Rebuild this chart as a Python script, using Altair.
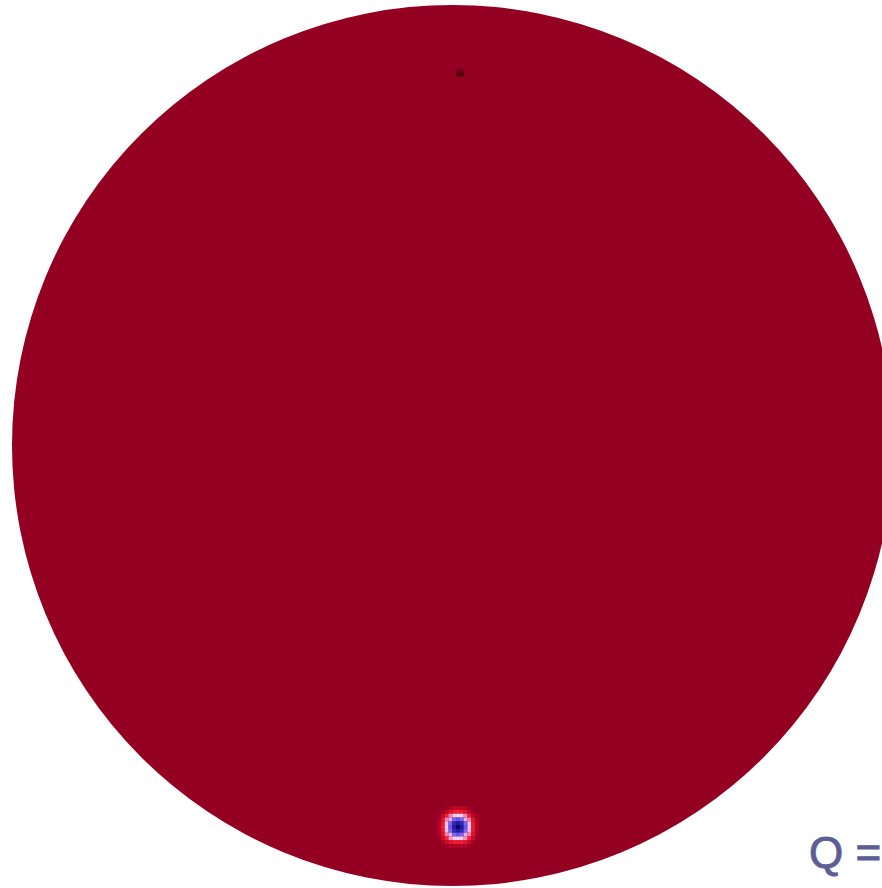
import altair as alt
import pandas as pd

# ---- data -------------------------------------------------------------
# field values on the pixel grid around the bright spot (rows top -> bottom)
spot_rows = list(range(-5, 6))
spot_cols = list(range(-5, 6))
spot_values = [
    [1.00, 1.00, 0.95, 0.85, 0.80, 0.80, 0.80, 0.85, 0.95, 1.00, 1.00],
    [1.00, 0.95, 0.80, 0.65, 0.55, 0.50, 0.55, 0.65, 0.80, 0.95, 1.00],
    [0.95, 0.80, 0.55, 0.30, 0.10, 0.05, 0.10, 0.30, 0.55, 0.80, 0.95],
    [0.90, 0.65, 0.30, -0.15, -0.40, -0.45, -0.40, -0.15, 0.30, 0.65, 0.90],
    [0.85, 0.60, 0.15, -0.40, -0.70, -0.80, -0.70, -0.40, 0.15, 0.60, 0.85],
    [0.85, 0.55, 0.10, -0.45, -0.80, -1.00, -0.80, -0.45, 0.10, 0.55, 0.85],
    [0.85, 0.60, 0.15, -0.40, -0.70, -0.80, -0.70, -0.40, 0.15, 0.60, 0.85],
    [0.90, 0.65, 0.30, -0.15, -0.40, -0.45, -0.40, -0.15, 0.30, 0.65, 0.90],
    [0.95, 0.75, 0.50, 0.25, 0.10, 0.05, 0.10, 0.25, 0.50, 0.75, 0.95],
    [1.00, 0.90, 0.75, 0.62, 0.55, 0.55, 0.55, 0.62, 0.75, 0.90, 1.00],
    [1.00, 1.00, 0.95, 0.88, 0.85, 0.85, 0.85, 0.88, 0.95, 1.00, 1.00],
]
# small dark patch near the top of the sphere
pole_rows = [-199, -199, -198, -198]
pole_cols = [0, 1, 0, 1]
pole_values = [1.20, 1.20, 1.40, 1.40]

color_domain = [-1.0, -0.5, 0.0, 0.5, 1.0, 1.4]
color_range = ["#00006e", "#2f4dff", "#f4f0f6", "#ff2030", "#940022", "#4a0010"]

label_text = "Q ="

# ---- layout constants ---------------------------------------------------
W, H = 882, 888
CELL = 3.8            # pixel size of one grid cell
SPOT_X, SPOT_Y = 458, 827   # pixel position of grid cell (0, 0)
DISC_X, DISC_Y, DISC_R = 452.5, 445.5, 440.5

recs = []
for r, row in zip(spot_rows, spot_values):
    for c, v in zip(spot_cols, row):
        recs.append({"row": r, "col": c, "value": v})
for r, c, v in zip(pole_rows, pole_cols, pole_values):
    recs.append({"row": r, "col": c, "value": v})
cells = pd.DataFrame(recs)

x_scale = alt.Scale(domain=[(0 - SPOT_X) / CELL, (W - SPOT_X) / CELL], nice=False, zero=False)
y_scale = alt.Scale(domain=[(0 - SPOT_Y) / CELL, (H - SPOT_Y) / CELL], nice=False, zero=False, reverse=True)

disc = alt.Chart(pd.DataFrame({"k": [0]})).mark_circle(
    color="#940022", opacity=1, size=(2 * DISC_R) ** 2, strokeWidth=0
).encode(x=alt.value(DISC_X), y=alt.value(DISC_Y))

grid = alt.Chart(cells).transform_calculate(
    x0="datum.col - 0.5", x1="datum.col + 0.5",
    y0="datum.row - 0.5", y1="datum.row + 0.5",
).mark_rect(strokeWidth=0).encode(
    x=alt.X("x0:Q", scale=x_scale, axis=None),
    x2="x1:Q",
    y=alt.Y("y0:Q", scale=y_scale, axis=None),
    y2="y1:Q",
    color=alt.Color("value:Q", scale=alt.Scale(domain=color_domain, range=color_range), legend=None),
)

label = alt.Chart(pd.DataFrame({"t": [label_text]})).mark_text(
    align="left", baseline="alphabetic", fontSize=44, font="Liberation Sans",
    color="#5e5e96", stroke="#5e5e96", strokeWidth=0.9,
).encode(x=alt.value(809), y=alt.value(868), text="t:N")

chart = alt.layer(disc, grid, label).properties(
    width=W, height=H, padding=0, autosize=alt.AutoSizeParams(type="none")
).configure_view(stroke=None)

chart.save("out.html", embed_options={"renderer": "svg", "actions": False})
